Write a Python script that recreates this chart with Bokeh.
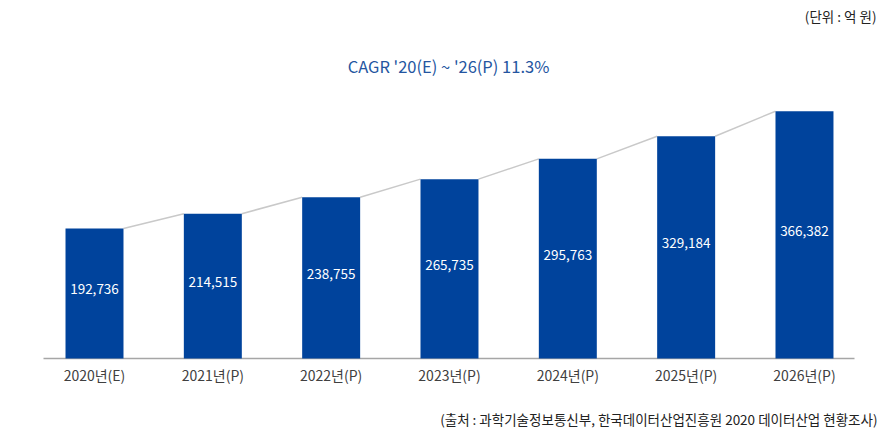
from bokeh.plotting import figure
from bokeh.models import Range1d, Label, ColumnDataSource
from bokeh.core.properties import value
from bokeh.embed import file_html
from bokeh.resources import INLINE

categories = ["2020년(E)", "2021년(P)", "2022년(P)", "2023년(P)", "2024년(P)", "2025년(P)", "2026년(P)"]
values = [192736, 214515, 238755, 265735, 295763, 329184, 366382]
value_labels = ["192,736", "214,515", "238,755", "265,735", "295,763", "329,184", "366,382"]
cagr_text = "CAGR '20(E) ~ '26(P) 11.3%"
unit_text = "(단위 : 억 원)"
source_text = "(출처 : 과학기술정보통신부, 한국데이터산업진흥원 2020 데이터산업 현황조사)"

BAR = "#00439C"
KFONT = "Noto Sans CJK KR"
BAR_W = 0.49
W, H = 885, 432
PX_X = 118.33          # pixels per category step
PX_Y = 6.75e-4         # pixels per unit of value
X0_PX, BASE_PX = 94, 358

xs = list(range(len(categories)))
src = ColumnDataSource(dict(x=xs, top=values, mid=[v / 2 for v in values],
                            lab=value_labels, cat=categories, zero=[0] * len(xs)))

x_start = -X0_PX / PX_X
y_start = -(H - BASE_PX) / PX_Y
p = figure(width=W, height=H, output_backend="svg", toolbar_location=None,
           x_range=Range1d(x_start, x_start + W / PX_X),
           y_range=Range1d(y_start, y_start + H / PX_Y),
           min_border=0)
p.outline_line_color = None
p.grid.visible = False
p.axis.visible = False

# baseline (axis line)
p.segment(x0=[x_start + 43 / PX_X], y0=[0], x1=[x_start + 854 / PX_X], y1=[0],
          line_color="#a6a6a6", line_width=1.5)

# connecting lines between bar tops
p.segment(x0=[i + BAR_W / 2 for i in xs[:-1]], y0=values[:-1],
          x1=[i + 1 - BAR_W / 2 for i in xs[:-1]], y1=values[1:],
          line_color="#c9c9c9", line_width=1.5)

p.vbar(x="x", top="top", bottom=0, width=BAR_W, source=src, fill_color=BAR, line_color=None)

p.text(x="x", y="mid", text="lab", source=src, text_color="white",
       text_font=value(KFONT), text_font_size="13.5px", text_align="center",
       text_baseline="middle", y_offset=-4)

p.text(x="x", y="zero", text="cat", source=src, text_color="#404040",
       text_font=value(KFONT), text_font_size="14px", text_align="center",
       text_baseline="middle", y_offset=16)

p.add_layout(Label(x=448, y=H - 65, x_units="screen", y_units="screen", text=cagr_text,
                   text_font=KFONT, text_font_size="16.5px", text_color="#2455A0",
                   text_align="center", text_baseline="middle"))
p.add_layout(Label(x=876, y=H - 15, x_units="screen", y_units="screen", text=unit_text,
                   text_font=KFONT, text_font_size="13.5px", text_color="#222222",
                   text_align="right", text_baseline="middle"))
p.add_layout(Label(x=877, y=H - 418, x_units="screen", y_units="screen", text=source_text,
                   text_font=KFONT, text_font_size="13.5px", text_color="#222222",
                   text_align="right", text_baseline="middle"))

open("out.html", "w").write(file_html(p, INLINE))
